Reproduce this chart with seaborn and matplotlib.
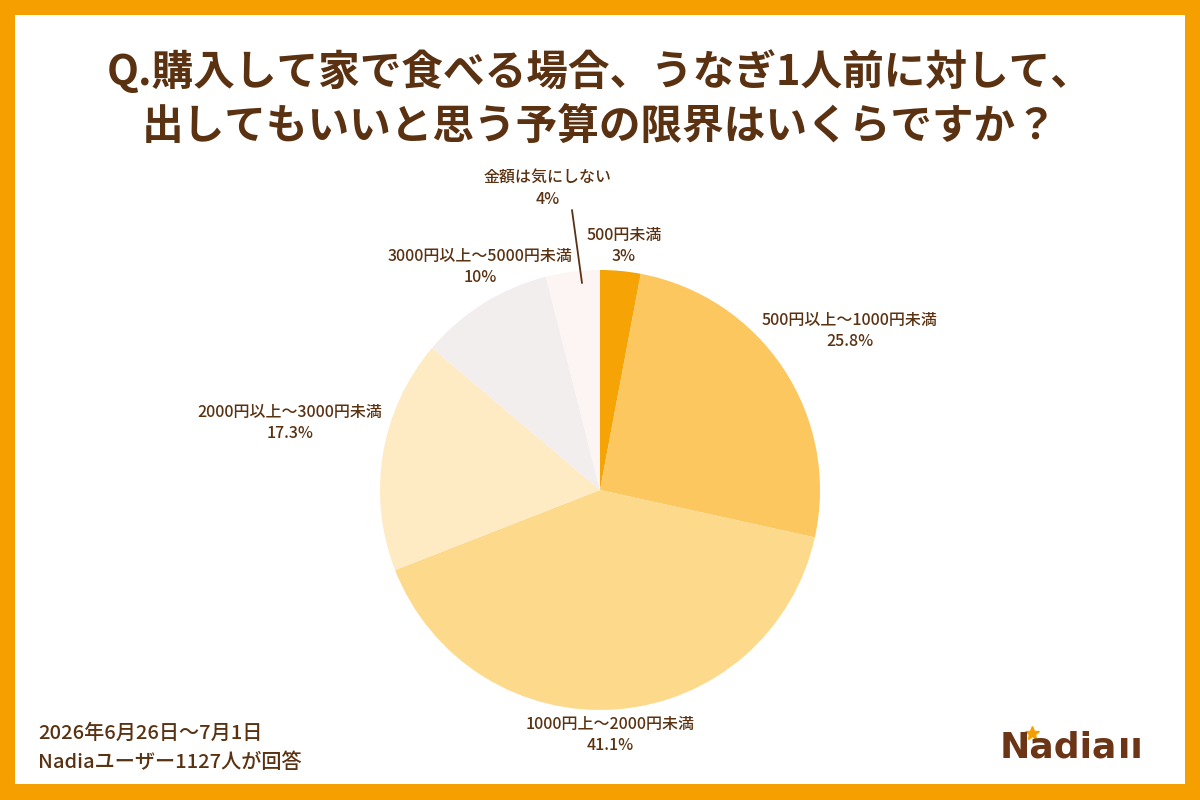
import matplotlib
matplotlib.use("Agg")
import matplotlib.pyplot as plt
import seaborn as sns
import numpy as np
from matplotlib.patches import Rectangle

# ---- data ----
categories = ["500円未満", "500円以上～1000円未満", "1000円上～2000円未満",
              "2000円以上～3000円未満", "3000円以上～5000円未満", "金額は気にしない"]
values = [3, 25.8, 41.1, 17.3, 10, 4]
value_labels = ["3%", "25.8%", "41.1%", "17.3%", "10%", "4%"]
colors = ["#F6A305", "#FCC75E", "#FDD98B", "#FEEBC4", "#F2EEEE", "#FDF5F3"]

title_lines = ["Q.購入して家で食べる場合、うなぎ1人前に対して、",
               "出してもいいと思う予算の限界はいくらですか？"]
footer_lines = ["2026年6月26日～7月1日", "Nadiaユーザー1127人が回答"]

sns.set_theme(style="white")
plt.rcParams['font.family'] = ['Noto Sans CJK JP', 'DejaVu Sans']

BROWN = "#5A3212"
ORANGE = "#F5A000"

fig = plt.figure(figsize=(12, 8), dpi=100)
fig.patch.set_facecolor(ORANGE)
fig.add_artist(Rectangle((15/1200, 16/800), 1170/1200, 769/800,
                         transform=fig.transFigure, facecolor="white",
                         edgecolor="none", zorder=0))

# pie axes: center (600,490) px, radius 220 px
cx, cy, r = 600, 490, 220
ax = fig.add_axes([(cx - r) / 1200, (800 - cy - r) / 800, 2 * r / 1200, 2 * r / 800])
ax.pie(values, colors=sns.color_palette(colors), startangle=90, counterclock=False,
       wedgeprops=dict(linewidth=0), radius=1)
ax.set_xlim(-1, 1)
ax.set_ylim(-1, 1)
ax.set_aspect("equal")
ax.axis("off")

# label positions (pixel layout)
label_px = [(624, 246), (850, 331), (610, 735), (290, 423), (480, 267), (548, 189)]
for (px, py), cat, val in zip(label_px, categories, value_labels):
    fig.text(px / 1200, 1 - py / 800, f"{cat}\n{val}", ha="center", va="center",
             fontsize=11.5, color=BROWN, linespacing=1.38, fontweight="medium")

# leader line for 金額は気にしない
fig.add_artist(plt.Line2D([572 / 1200, 582 / 1200], [1 - 210 / 800, 1 - 283 / 800],
                          transform=fig.transFigure, color=BROWN, linewidth=1.3))

# title
for i, line in enumerate(title_lines):
    fig.text(0.5, 1 - (72 + 55 * i) / 800, line, ha="center", va="center",
             fontsize=30, fontweight="bold", color=BROWN)

# footer
for i, line in enumerate(footer_lines):
    fig.text(38 / 1200, 1 - (733 + 29 * i) / 800, line, ha="left", va="center",
             fontsize=14.5, color=BROWN, fontweight="medium")

# logo
fig.text(1000 / 1200, 1 - 748 / 800, "Nadia", ha="left", va="center",
         fontsize=26, fontweight="bold", color="#6B3516", family=["DejaVu Sans"])
fig.text(1118 / 1200, 1 - 748 / 800, "ıı", ha="left", va="center",
         fontsize=26, fontweight="bold", color="#6B3516", family=["DejaVu Sans"])
fig.add_artist(plt.Line2D([1032 / 1200], [1 - 733 / 800], marker="*", markersize=10,
                          color=ORANGE, transform=fig.transFigure))

fig.savefig("out.png", dpi=100, facecolor=fig.get_facecolor())
